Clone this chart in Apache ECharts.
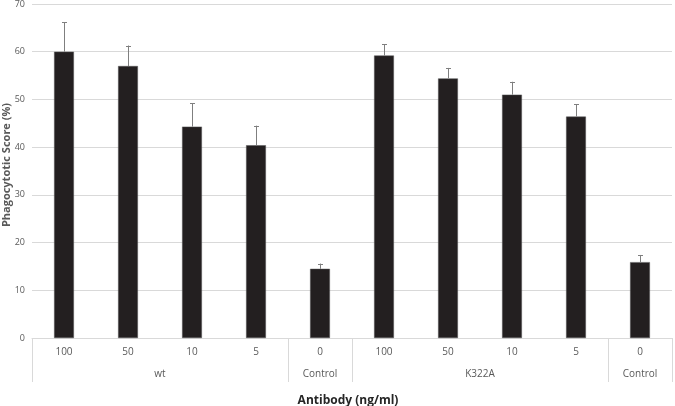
<!DOCTYPE html>
<html><head><meta charset="utf-8">
<script src="https://cdn.jsdelivr.net/npm/echarts@6/dist/echarts.min.js"></script>
<style>html,body{margin:0;padding:0;background:#fff}#c{width:675px;height:406px}</style>
</head><body><div id="c"></div>
<script>
const categories = ['100','50','10','5','0','100','50','10','5','0'];
const groups = ['wt','Control','K322A','Control'];
const groupSpans = [4,1,4,1];
const values = [60.0, 57.0, 44.3, 40.4, 14.5, 59.2, 54.4, 51.0, 46.4, 15.9];
const errors = [6.2, 4.3, 4.9, 4.1, 1.1, 2.4, 2.2, 2.7, 2.6, 1.5];
const yTicks = [0,10,20,30,40,50,60,70];

// group label positions
const groupCenters = {};
let acc = 0;
groupSpans.forEach((s,i)=>{ groupCenters[(acc + s/2).toFixed(1)] = groups[i]; acc += s; });
const boundaries = [0];
acc = 0; groupSpans.forEach(s=>{acc+=s; boundaries.push(acc);});

const chart = echarts.init(document.getElementById('c'));
const labelColor = '#595959';
chart.setOption({
  animation:false,
  title:{text:'Antibody (ng/ml)', left:343, top:390, textAlign:'center',
    textStyle:{fontFamily:'Open Sans', fontSize:12, fontWeight:'bold', color:'#262626'}},
  grid:{left:32, right:3, top:4, bottom:68, containLabel:false, outerBoundsMode:'none'},
  xAxis:[{
    type:'category', data:categories,
    axisLine:{lineStyle:{color:'#d9d9d9'}},
    axisTick:{show:true, length:44, lineStyle:{color:'#d9d9d9'},
      interval:(i)=>boundaries.includes(i)},
    axisLabel:{color:labelColor, fontSize:10, fontFamily:'Open Sans', margin:9, interval:0}
  },{
    type:'value', min:0, max:categories.length, interval:0.5, position:'bottom',
    axisLine:{show:false}, axisTick:{show:false}, splitLine:{show:false},
    axisLabel:{color:labelColor, fontSize:10, fontFamily:'Open Sans', margin:31,
      showMinLabel:true, showMaxLabel:true,
      formatter:(v)=>groupCenters[v.toFixed(1)]||''}
  }],
  yAxis:{type:'value', min:yTicks[0], max:yTicks[yTicks.length-1], interval:10,
    name:'Phagocytotic Score (%)', nameLocation:'middle', nameRotate:90, nameGap:20,
    nameMoveOverlap:false,
    nameTextStyle:{fontFamily:'Open Sans', fontSize:11, fontWeight:'bold', color:labelColor, padding:[0,0,0,12]},
    axisLine:{show:false}, axisTick:{show:false},
    splitLine:{lineStyle:{color:'#d9d9d9'}},
    axisLabel:{color:labelColor, fontSize:9, fontFamily:'Open Sans', margin:7}
  },
  series:[{
    type:'bar', data:values, barWidth:'31%', xAxisIndex:0,
    itemStyle:{color:'#231f20', borderColor:'#555', borderWidth:0.5}
  },{
    type:'custom', xAxisIndex:0,
    data:values.map((v,i)=>[i, v, v+errors[i]]),
    renderItem:(params, api)=>{
      const base = api.coord([api.value(0), api.value(1)]);
      const top = api.coord([api.value(0), api.value(2)]);
      const x = Math.round(base[0]) + 0.5;
      const st = {stroke:'#7f7f7f', lineWidth:1};
      return {type:'group', children:[
        {type:'line', shape:{x1:x, y1:base[1], x2:x, y2:top[1]}, style:st},
        {type:'line', shape:{x1:x-2.5, y1:Math.round(top[1])+0.5, x2:x+2.5, y2:Math.round(top[1])+0.5}, style:st}
      ]};
    },
    z:3
  }]
});
</script></body></html>
